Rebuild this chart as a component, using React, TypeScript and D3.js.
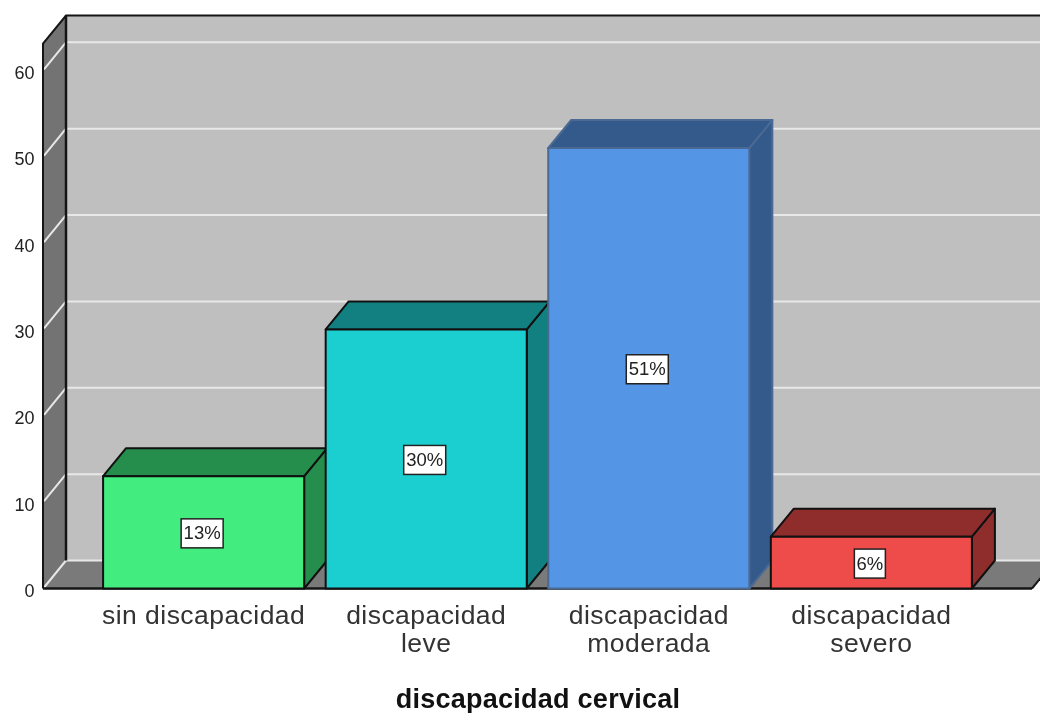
import React from "react";
import * as d3 from "d3";

const categories = ["sin discapacidad", "discapacidad leve", "discapacidad moderada", "discapacidad severo"];
const categoryLines = [["sin discapacidad"], ["discapacidad", "leve"], ["discapacidad", "moderada"], ["discapacidad", "severo"]];
const values = [13, 30, 51, 6];
const labels = ["13%", "30%", "51%", "6%"];
const labelWidths = [42, 42, 42, 31];
const frontColors = ["#42ec7f", "#1bcfd0", "#5595e6", "#ee4b4b"];
const sideColors = ["#268e4d", "#128080", "#335a8a", "#8f2d2d"];
const strokeColors = ["#111", "#111", "#4a6a94", "#111"];
const yTicks = [0, 10, 20, 30, 40, 50, 60];
const xTitle = "discapacidad cervical";

const W = 1040, H = 713;
const DX = 23, DY = -28;
const y = d3.scaleLinear().domain([0, 63.1]).range([588.5, 43.5]);
const x = d3.scaleBand<string>().domain(categories).range([43, 1032]).paddingInner(0.0966).paddingOuter(0.27);
const FONT = "'Liberation Sans', Arial, sans-serif";
const INK = "#151515";

const poly = (pts: [number, number][]) => (d3.line()(pts) as string) + "Z";

export default function App() {
  const [x0, x1] = [43, 1032];
  const y0 = y(0), yTop = y.range()[1];
  return (
    <svg width={W} height={H} viewBox={`0 0 ${W} ${H}`} style={{ position: "absolute", left: 0, top: 0, background: "#fff", filter: "blur(0.4px)" }}>
      <rect x={x0 + DX} y={yTop + DY} width={W} height={y0 - yTop} fill="#bfbfbf" />
      <path d={poly([[x0, y0], [x0, yTop], [x0 + DX, yTop + DY], [x0 + DX, y0 + DY]])} fill="#737373" />
      <path d={poly([[x0, y0], [x0 + DX, y0 + DY], [x1 + DX, y0 + DY], [x1, y0]])} fill="#7a7a7a" />
      {yTicks.map((t) => (
        <g key={t} stroke="#e8e8e8" strokeWidth={2} fill="none">
          <line x1={x0 + 1} y1={y(t) - 1} x2={x0 + DX} y2={y(t) + DY} />
          <line x1={x0 + DX} y1={y(t) + DY} x2={W} y2={y(t) + DY} />
        </g>
      ))}
      <path d={`M${x0},${y0}V${yTop}L${x0 + DX},${yTop + DY}H${W}`} fill="none" stroke={INK} strokeWidth={2} />
      <line x1={x0 + DX} y1={yTop + DY} x2={x0 + DX} y2={y0 + DY} stroke={INK} strokeWidth={2.5} />
      <line x1={x1} y1={y0} x2={x1 + DX} y2={y0 + DY} stroke={INK} strokeWidth={2} />
      <line x1={x0} y1={y0} x2={x1} y2={y0} stroke={INK} strokeWidth={2.5} />
      {yTicks.map((t) => (
        <text key={t} x={34.5} y={y(t) + 8.5} textAnchor="end" fontFamily={FONT} fontSize={18} fill="#222">{t}</text>
      ))}
      {categories.map((c, i) => {
        const bx = x(c) as number, bw = x.bandwidth(), top = y(values[i]);
        return (
          <g key={c} stroke={strokeColors[i]} strokeWidth={2} strokeLinejoin="round">
            <path d={poly([[bx + bw, y0], [bx + bw, top], [bx + bw + DX, top + DY], [bx + bw + DX, y0 + DY]])} fill={sideColors[i]} />
            <path d={poly([[bx, top], [bx + DX, top + DY], [bx + bw + DX, top + DY], [bx + bw, top]])} fill={sideColors[i]} />
            <rect x={bx} y={top} width={bw} height={y0 - top} fill={frontColors[i]} />
          </g>
        );
      })}
      {categories.map((c, i) => {
        const cx = (x(c) as number) + x.bandwidth() / 2 - 1.5;
        const cy = (y(values[i]) + y0) / 2 + 0.5;
        const w = labelWidths[i];
        return (
          <g key={c}>
            <rect x={cx - w / 2} y={cy - 14} width={w} height={29} fill="#fff" stroke="#222" strokeWidth={1.5} />
            <text x={cx} y={cy + 6.5} textAnchor="middle" fontFamily={FONT} fontSize={18.5} fill="#222">{labels[i]}</text>
          </g>
        );
      })}
      {categories.map((c, i) => {
        const cx = (x(c) as number) + x.bandwidth() / 2;
        return (
          <text key={c} textAnchor="middle" fontFamily={FONT} fontSize={26.5} letterSpacing={0.45} fill="#333">
            {categoryLines[i].map((l, j) => (
              <tspan key={j} x={cx} y={624 + j * 27.5}>{l}</tspan>
            ))}
          </text>
        );
      })}
      <text x={538} y={708} textAnchor="middle" fontFamily={FONT} fontSize={27} letterSpacing={0.25} fontWeight="bold" fill="#111">{xTitle}</text>
    </svg>
  );
}
